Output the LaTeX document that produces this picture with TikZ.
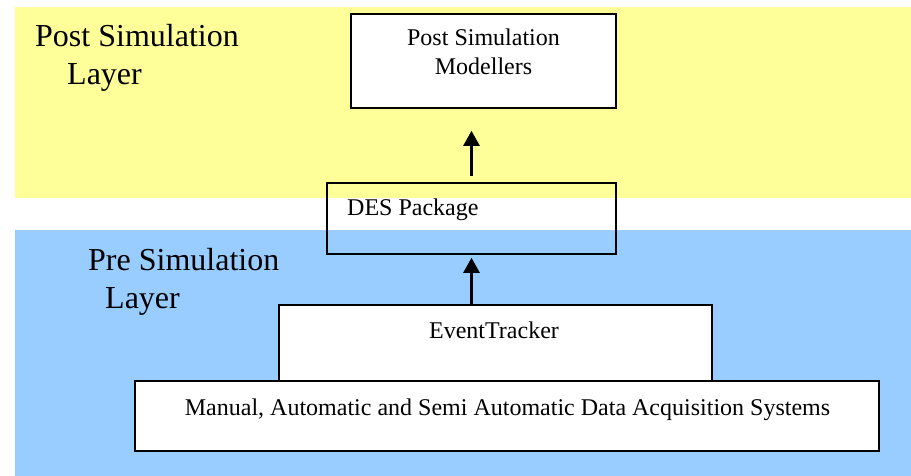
\documentclass[tikz,border=0pt]{standalone}
\usepackage{fontspec}
\setmainfont{Liberation Serif}
\usetikzlibrary{arrows.meta}
\definecolor{postlayer}{HTML}{FFFF99}
\definecolor{prelayer}{HTML}{99CCFF}
\tikzset{
  layerlabel/.style={font=\fontsize{32}{38}\selectfont, anchor=base west, inner sep=0},
  boxtext/.style={font=\fontsize{24}{29}\selectfont, inner sep=0},
  block/.style={draw=black, line width=1.6pt, inner sep=0, rectangle},
  flow/.style={line width=2.6pt, -{Triangle[width=16pt,length=15pt]}},
}
\begin{document}
\begin{tikzpicture}[x=1pt,y=-1pt]
  \useasboundingbox (0,0) rectangle (911,476);
  % layer bands
  \fill[postlayer] (15,7) rectangle (911,198);
  \fill[prelayer] (15,230) rectangle (911,476);
  % layer titles
  \node[layerlabel] (postA) at (35,47) {Post Simulation};
  \node[layerlabel] (postB) at (67,85) {Layer};
  \node[layerlabel] (preA) at (88,270) {Pre Simulation};
  \node[layerlabel] (preB) at (105,308) {Layer};
  % blocks
  \node[block, fill=white, minimum width=265pt, minimum height=94pt] (post) at (483.5,61) {};
  \node[boxtext, anchor=base] (postT1) at (483.5,46) {Post Simulation};
  \node[boxtext, anchor=base] (postT2) at (483.5,75) {Modellers};
  \node[block, minimum width=289pt, minimum height=71pt] (des) at (471.5,218.5) {};
  \node[boxtext, anchor=base west] (desT) at (347,215) {DES Package};
  \node[block, fill=white, minimum width=744pt, minimum height=70pt] (daq) at (507,416) {};
  \node[boxtext, anchor=base] (daqT) at (507.5,415) {Manual, Automatic and Semi Automatic Data Acquisition Systems};
  \node[block, fill=white, minimum width=433pt, minimum height=76pt] (evt) at (495.5,343) {};
  \node[boxtext, anchor=base] (evtT) at (494,338) {EventTracker};
  % data flow
  \draw[flow, shorten <=6pt, shorten >=22pt] (des.north) -- (des.north |- post.south);
  \draw[flow, shorten >=3pt] (des.south |- evt.north) -- (des.south);
\end{tikzpicture}
\end{document}
